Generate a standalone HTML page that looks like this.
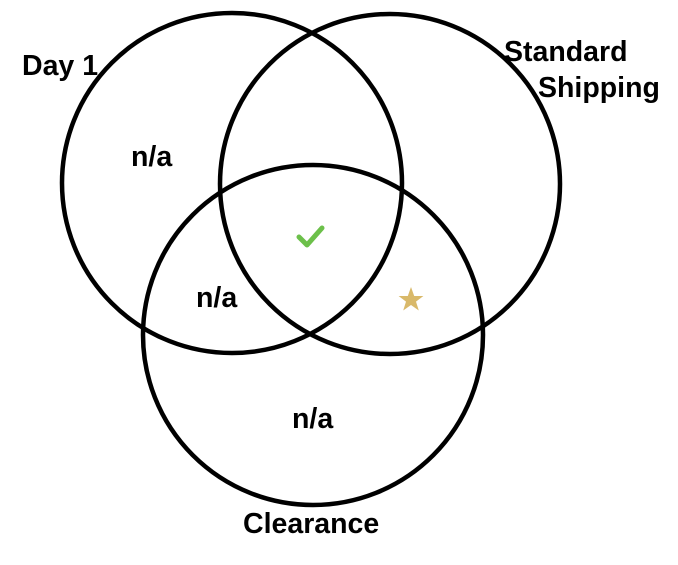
<!DOCTYPE html>
<html><head><style>body{margin:0;background:#fff}svg{display:block}</style></head><body>
<svg width="678" height="565" viewBox="0 0 678 565" font-family="Liberation Sans, sans-serif" font-weight="bold" font-size="28.5">
<g fill="none" stroke="#000" stroke-width="4.5">
<circle cx="232" cy="183" r="170"/>
<circle cx="390" cy="184" r="170"/>
<circle cx="313" cy="335" r="170"/>
</g>
<polyline points="299,237 307,245 322,228" fill="none" stroke="#6cc04a" stroke-width="5" stroke-linecap="round" stroke-linejoin="round"/>
<polygon points="411,287 414.2,296 423.4,296 416,301.6 418.8,310.5 411,305 403.2,310.5 406,301.6 398.6,296 407.8,296" fill="#d9b96a"/>
<text x="22" y="75">Day 1</text>
<text x="504" y="61">Standard</text>
<text x="538" y="97">Shipping</text>
<text x="131" y="166">n/a</text>
<text x="196" y="307">n/a</text>
<text x="292" y="428">n/a</text>
<text x="243" y="533">Clearance</text>
</svg>
</body></html>
